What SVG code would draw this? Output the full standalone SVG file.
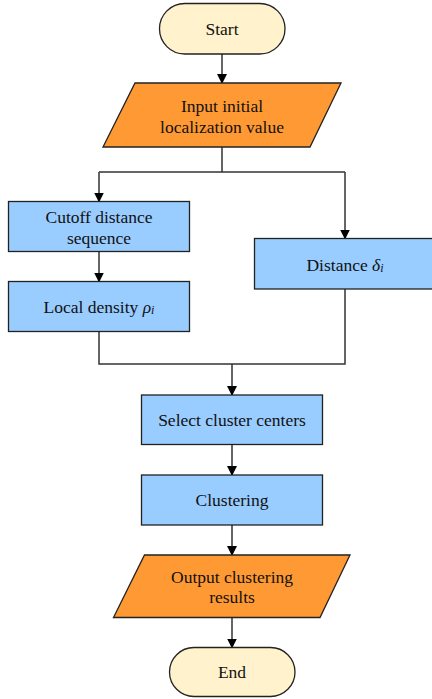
<svg xmlns="http://www.w3.org/2000/svg" width="432" height="699" viewBox="0 0 432 699">
<defs>
<marker id="ah" markerWidth="10" markerHeight="10" refX="9" refY="5" orient="auto" markerUnits="userSpaceOnUse">
<path d="M0,0 L10,5 L0,10 Z" fill="#000"/>
</marker>
<style>
text{font-family:'Liberation Serif','Times New Roman',serif;font-size:17.5px;fill:#111;text-anchor:middle;dominant-baseline:central}
.term{fill:#FFF2CC;stroke:#222;stroke-width:1.3}
.io{fill:#FF9933;stroke:#222;stroke-width:1.3}
.proc{fill:#99CCFF;stroke:#222;stroke-width:1.3}
.c{fill:none;stroke:#333;stroke-width:1.5}
.a{marker-end:url(#ah)}
.it{font-style:italic}
.sub{font-size:12px}
</style>
</defs>
<rect width="432" height="699" fill="#fff"/>
<g id="connectors">
<path class="c a" d="M222,54 V83"/>
<path class="c" d="M222,147 V172 M99,172 H345"/>
<path class="c a" d="M99,172 V201.5"/>
<path class="c a" d="M345,172 V238.5"/>
<path class="c a" d="M99,251.5 V281.5"/>
<path class="c" d="M99,331.5 V364 H345 V289"/>
<path class="c a" d="M232,364 V395"/>
<path class="c a" d="M232,444.5 V475"/>
<path class="c a" d="M232,525 V555"/>
<path class="c a" d="M232,617.5 V647.5"/>
</g>
<g id="start">
<rect class="term" x="159.5" y="3.5" width="125.5" height="50.5" rx="25.25"/>
<text x="222" y="29">Start</text>
</g>
<g id="input">
<polygon class="io" points="135,83 341,83 310,147 103,147"/>
<text x="222" y="106">Input initial</text>
<text x="222" y="127">localization value</text>
</g>
<g id="cutoff">
<rect class="proc" x="8.5" y="201.5" width="181" height="50"/>
<text x="99" y="217">Cutoff distance</text>
<text x="99" y="238">sequence</text>
</g>
<g id="density">
<rect class="proc" x="8.5" y="281.5" width="181" height="50"/>
<text x="99" y="307">Local density <tspan class="it">ρ</tspan><tspan class="it sub" dy="3">i</tspan></text>
</g>
<g id="distance">
<rect class="proc" x="254.5" y="238.5" width="180" height="50.5"/>
<text x="345" y="265">Distance <tspan class="it">δ</tspan><tspan class="it sub" dy="3">i</tspan></text>
</g>
<g id="select">
<rect class="proc" x="141.5" y="395" width="181" height="49.5"/>
<text x="232" y="420">Select cluster centers</text>
</g>
<g id="clustering">
<rect class="proc" x="141.5" y="475" width="181" height="50"/>
<text x="232" y="500">Clustering</text>
</g>
<g id="output">
<polygon class="io" points="144.5,555 350,555 320,617.5 113.5,617.5"/>
<text x="232" y="577">Output clustering</text>
<text x="232" y="597">results</text>
</g>
<g id="end">
<rect class="term" x="169.5" y="647.5" width="125.5" height="49" rx="24.5"/>
<text x="232" y="672">End</text>
</g>
</svg>
